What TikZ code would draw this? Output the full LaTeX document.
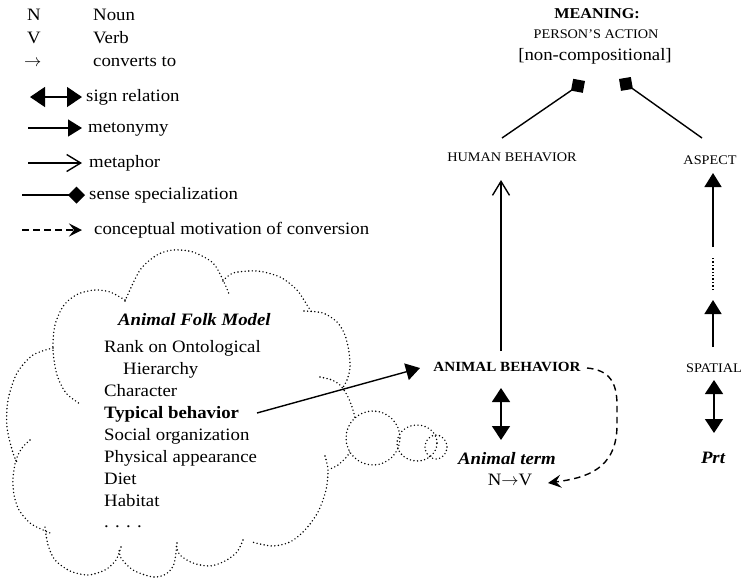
\documentclass[tikz,border=0pt]{standalone}
\usepackage{fontspec}
\setmainfont[FakeStretch=1.08]{Liberation Serif}
\usetikzlibrary{arrows.meta}

\tikzset{
  txt/.style={inner sep=0pt, font=\fontsize{17.4}{22}\selectfont},
  lbl/.style={txt, anchor=base west},
  capsA/.style={inner sep=0pt, font=\fontsize{13.2}{16}\selectfont},
  conn/.style={line width=1.4pt},
  mtn/.style={conn, -{Triangle[length=14pt,width=17pt]}},
  sgn/.style={conn, {Triangle[length=14pt,width=18pt]}-{Triangle[length=14pt,width=18pt]}},
  sgnkey/.style={conn, {Triangle[length=15pt,width=20pt]}-{Triangle[length=15pt,width=20pt]}},
  mtp/.style={conn, -{Straight Barb[length=14pt,width=17pt,line width=1.4pt]}},
  spec/.style={conn, -{Diamond[length=17pt,width=17pt]}},
  motiv/.style={conn, dash pattern=on 6.5pt off 4.5pt, -{Stealth[length=13pt,width=13pt,inset=5pt]}},
  cloudline/.style={line width=1.6pt, dash pattern=on 0pt off 3.6pt, line cap=round},
}

\begin{document}
\begin{tikzpicture}[x=1pt, y=-1pt]
\useasboundingbox (0,0) rectangle (746,579);

% ---------------- legend ----------------
\node[lbl] (kN) at (27,20) {N};
\node[lbl] (tN) at (93,20) {Noun};
\node[lbl] (kV) at (27,43) {V};
\node[lbl] (tV) at (93,43) {Verb};
\node[lbl] (kC) at (24,66) {$\rightarrow$};
\node[lbl] (tC) at (93,66) {converts to};

\coordinate (s1) at (30,97);  \coordinate (s2) at (82,97);
\draw[sgnkey] (s1) -- (s2);
\node[lbl] (tS) at (86,101) {sign relation};

\coordinate (m1) at (28,128); \coordinate (m2) at (82,128);
\draw[mtn] (m1) -- (m2);
\node[lbl] (tM) at (88,132) {metonymy};

\coordinate (p1) at (28,163); \coordinate (p2) at (82,163);
\draw[mtp] (p1) -- (p2);
\node[lbl] (tP) at (89,167) {metaphor};

\coordinate (d1) at (22,195); \coordinate (d2) at (85,195);
\draw[spec] (d1) -- (d2);
\node[lbl] (tD) at (89,199) {sense specialization};

\coordinate (c1) at (22,230); \coordinate (c2) at (82,230);
\draw[motiv] (c1) -- (c2);
\node[lbl] (tK) at (94,234) {conceptual motivation of conversion};

% ---------------- cloud ----------------
\draw[cloudline] plot[smooth] coordinates {(125,301) (140,270) (157,255) (173,250) (193,252) (213,263) (223,280) (229,294)};
\draw[cloudline] plot[smooth] coordinates {(223,281) (233,273) (257,271) (280,277) (297,290) (307,305) (313,314)};
\draw[cloudline] plot[smooth] coordinates {(304,311) (323,313) (337,322) (345,335) (349,352) (350,368) (347,380) (342,389)};
\draw[cloudline] plot[smooth] coordinates {(320,377) (332,380) (341,386) (348,397) (353,410) (356,425) (355,440) (348,455) (338,465) (330,469)};
\draw[cloudline] plot[smooth] coordinates {(325,456) (328,470) (326,490) (318,512) (305,530) (290,542) (272,546) (252,542)};
\draw[cloudline] plot[smooth] coordinates {(243,540) (237,552) (225,561) (210,566) (193,563) (180,555) (176,545)};
\draw[cloudline] plot[smooth] coordinates {(177,543) (174,564) (166,574) (153,577) (133,570) (121,558) (119,548)};
\draw[cloudline] plot[smooth] coordinates {(121,547) (116,560) (105,570) (88,575) (70,571) (55,560) (48,545) (45,527)};
\draw[cloudline] plot[smooth] coordinates {(30,440) (22,448) (16,460) (13,478) (14,495) (19,510) (30,523) (43,530) (50,533)};
\draw[cloudline] plot[smooth] coordinates {(53,348) (33,355) (17,373) (8,400) (7,427) (13,453) (18,464)};
\draw[cloudline] plot[smooth] coordinates {(125,300) (110,292) (95,290) (78,294) (64,305) (55,325) (53,350) (57,375) (66,393) (80,404)};

% thought bubbles
\fill[white] (373,438) circle (27pt);
\draw[cloudline] (373,438) circle (27pt);
\draw[cloudline] (417,443) ellipse (20pt and 18pt);
\draw[cloudline] (436,447) ellipse (11pt and 12pt);

% cloud text
\node[lbl, font=\fontsize{17.4}{22}\selectfont\bfseries\itshape] (afm) at (118,325) {Animal Folk Model};
\node[lbl] (r1) at (104,352) {Rank on Ontological};
\node[lbl] (r2) at (123,374) {Hierarchy};
\node[lbl] (r3) at (104,396) {Character};
\node[lbl, font=\fontsize{17.4}{22}\selectfont\bfseries] (tb) at (104,418) {Typical behavior};
\node[lbl] (r5) at (104,440) {Social organization};
\node[lbl] (r6) at (104,462) {Physical appearance};
\node[lbl] (r7) at (104,484) {Diet};
\node[lbl] (r8) at (104,506) {Habitat};
\node[lbl] (r9) at (104,527) {. . . .};

% ---------------- right-hand graph ----------------
\node[inner sep=0pt, font=\fontsize{15}{18}\selectfont\bfseries] (mean) at (597,14) {MEANING:};
\node[capsA] (act) at (596,34) {PERSON’S ACTION};
\node[txt] (nc) at (595,56) {[non-compositional]};

\node[capsA] (hb) at (512,157) {HUMAN BEHAVIOR};
\node[capsA] (asp) at (710,160) {ASPECT};
\node[inner sep=0pt, font=\fontsize{14}{16}\selectfont\bfseries] (ab) at (507,367) {ANIMAL BEHAVIOR};
\node[capsA] (sp) at (714,368) {SPATIAL};
\node[txt, font=\fontsize{17.4}{22}\selectfont\bfseries\itshape] (at) at (507,459) {Animal term};
\node[txt] (nv) at (510,480) {N$\rightarrow$V};
\node[txt, font=\fontsize{17.4}{22}\selectfont\bfseries\itshape] (prt) at (713,458) {Prt};

% sense specialization into the meaning
\coordinate (hbL) at (502,138);  \coordinate (tipL) at (585,81);
\coordinate (aspR) at (702,138); \coordinate (tipR) at (619,79);
\draw[spec] (hbL) -- (tipL);
\draw[spec] (aspR) -- (tipR);

% metaphor: animal behaviour -> human behaviour
\coordinate (abTop) at (501,351); \coordinate (hbBot) at (501,180);
\draw[mtp] (abTop) -- (hbBot);

% sign relation: animal behaviour <-> animal term
\coordinate (sgA) at (501,388); \coordinate (sgB) at (501,440);
\draw[sgn] (sgA) -- (sgB);

% folk model feeds animal behaviour
\coordinate (tbEnd) at (257,413); \coordinate (abIn) at (420,368);
\draw[mtn] (tbEnd) -- (abIn);

% motivation of conversion
\coordinate (mvA) at (587,368); \coordinate (mvB) at (617,405);
\coordinate (mvC) at (617,425); \coordinate (mvD) at (548,483);
\draw[motiv] (mvA) .. controls (609,370) and (617,382) .. (mvB) -- (mvC)
  .. controls (617,470) and (585,478) .. (mvD);

% spatial column
\coordinate (spA) at (714,380); \coordinate (spB) at (714,433);
\draw[sgn] (spA) -- (spB);
\coordinate (q1) at (713,347); \coordinate (q2) at (713,300);
\draw[mtn] (q1) -- (q2);
\coordinate (q3) at (713,290); \coordinate (q4) at (713,258);
\draw[line width=1.4pt, dash pattern=on 1.4pt off 2pt] (q3) -- (q4);
\coordinate (q5) at (713,247); \coordinate (q6) at (713,173);
\draw[mtn] (q5) -- (q6);
\end{tikzpicture}
\end{document}
